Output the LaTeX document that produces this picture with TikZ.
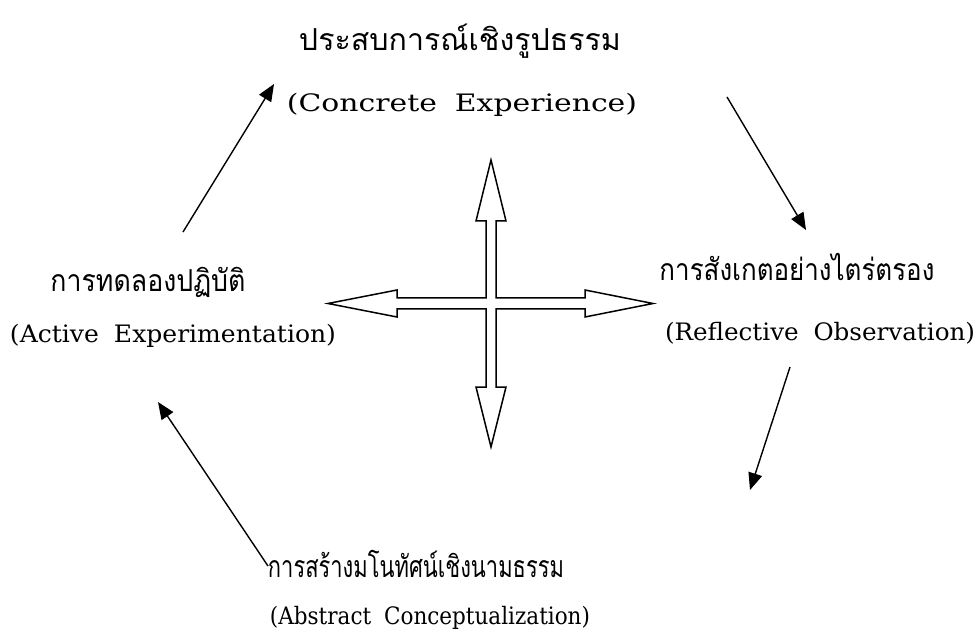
\documentclass[tikz,border=0pt]{standalone}
\usepackage{fontspec}
\usepackage{graphicx}
\newfontfamily\thaifont[Script=Thai]{Loma}
\newfontfamily\engfont{DejaVu Serif}
\usetikzlibrary{arrows.meta}
\tikzset{
  thai/.style={font=\thaifont\fontsize{27}{30}\selectfont, inner sep=0pt, anchor=center},
  eng/.style={font=\engfont\fontsize{24}{28}\selectfont, inner sep=0pt, anchor=center},
  cyc/.style={line width=1.4pt, -{Triangle[length=17pt,width=14pt]}},
  cross/.style={draw=black, line width=1.5pt, fill=white, line join=miter}
}
\newcommand{\wsp}{\hspace{0.6em}}
\newcommand{\fitw}[2]{\resizebox{#1}{\height}{#2}}
\newcommand{\fitt}[2]{\resizebox{#1}{1.12\height}{#2}}
\begin{document}
\begin{tikzpicture}[x=1pt,y=-1pt]
\useasboundingbox (0,0) rectangle (977,636);
% labels
\node[thai] (ceT) at (460,41)  {\fitt{322pt}{ประสบการณ์เชิงรูปธรรม}};
\node[eng]  (ceE) at (462,105) {\fitw{350pt}{(Concrete\wsp Experience)}};
\node[thai] (aeT) at (148,282) {\fitt{195pt}{การทดลองปฏิบัติ}};
\node[eng]  (aeE) at (173,336) {\fitw{326pt}{(Active\wsp Experimentation)}};
\node[thai] (roT) at (797,267) {\fitt{275pt}{การสังเกตอย่างไตร่ตรอง}};
\node[eng]  (roE) at (820,333) {\fitw{310pt}{(Reflective\wsp Observation)}};
\node[thai] (acT) at (416,564) {\fitt{296pt}{การสร้างมโนทัศน์เชิงนามธรรม}};
\node[eng]  (acE) at (430,618) {\fitw{320pt}{(Abstract\wsp Conceptualization)}};
% arrow end points
\coordinate (a1s) at (183,232); \coordinate (a1e) at (274,84);
\coordinate (a2s) at (727,97);  \coordinate (a2e) at (806,230);
\coordinate (a3s) at (790,367); \coordinate (a3e) at (750,490);
\coordinate (a4s) at (268,566); \coordinate (a4e) at (158,402);
\draw[cyc] (a1s) -- (a1e);
\draw[cyc] (a2s) -- (a2e);
\draw[cyc] (a3s) -- (a3e);
\draw[cyc] (a4s) -- (a4e);
% central four-way arrow
\coordinate (cc) at (491,303.5);
\draw[cross] (491,160) -- (506,221) -- (496,221) -- (496,298) -- (585,298) -- (585,290) -- (653,303.5)
  -- (585,317) -- (585,309) -- (496,309) -- (496,387) -- (506,387) -- (491,447) -- (476,387)
  -- (486,387) -- (486,309) -- (397,309) -- (397,317) -- (328,303.5) -- (397,290) -- (397,298)
  -- (486,298) -- (486,221) -- (476,221) -- cycle;
\end{tikzpicture}
\end{document}
